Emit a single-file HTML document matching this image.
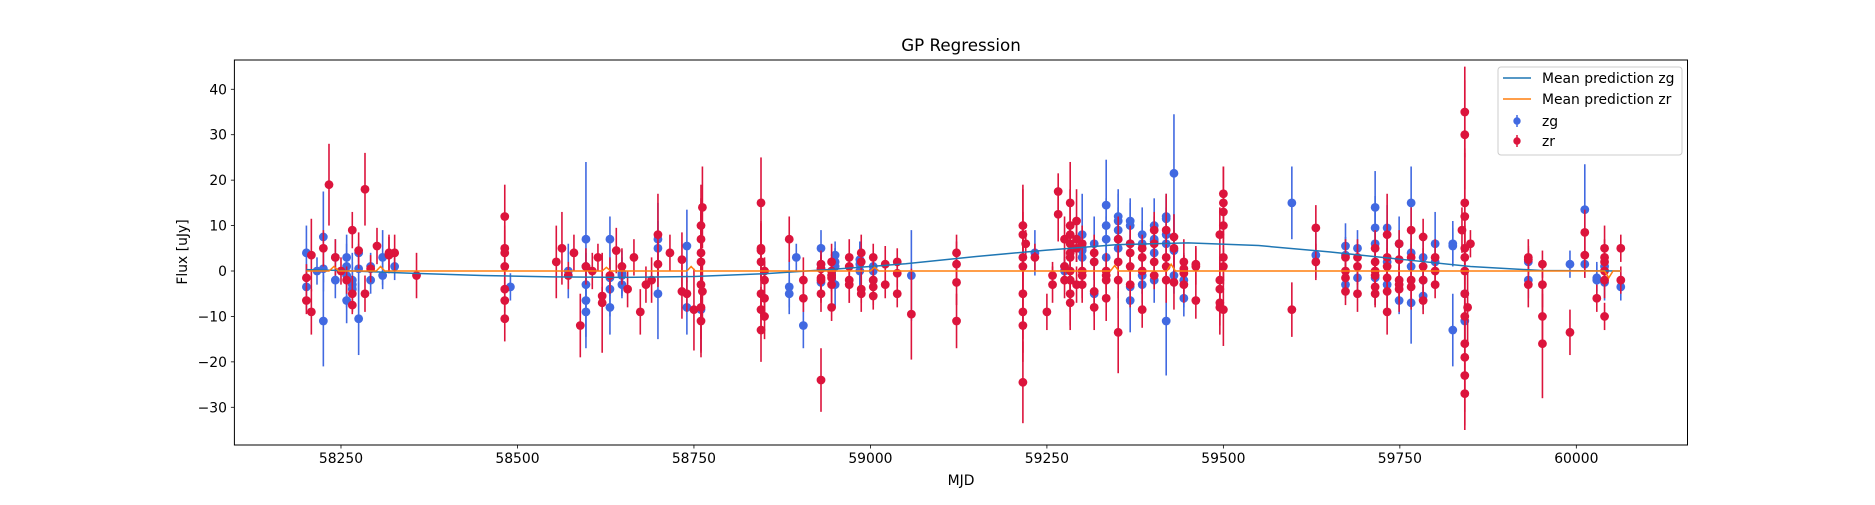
<!DOCTYPE html>
<html><head><meta charset="utf-8"><style>
html,body{margin:0;padding:0;background:#fff;}
svg text{font-family:"DejaVu Sans","Liberation Sans",sans-serif;fill:#000;}
</style></head><body>
<svg id="chart" width="1875" height="500" xmlns="http://www.w3.org/2000/svg">
<rect width="1875" height="500" fill="#fff"/>
<text x="961" y="51" font-size="16.7" text-anchor="middle">GP Regression</text>
<g id="grid"></g>
<g id="pts"></g>
<g id="lines"></g>
<rect x="234.4" y="60" width="1453.1" height="385" fill="none" stroke="#000" stroke-width="1"/>
<g id="axes"></g>
<text x="961" y="485" font-size="13.9" text-anchor="middle">MJD</text>
<text transform="translate(187,252) rotate(-90)" font-size="13.9" text-anchor="middle">Flux [uJy]</text>
<g>
<rect x="1498" y="67" width="184" height="88" rx="3" fill="#fff" fill-opacity="0.8" stroke="#ccc"/>
<line x1="1503" y1="78" x2="1531" y2="78" stroke="#1f77b4" stroke-width="1.5"/>
<text x="1542" y="83" font-size="13.9">Mean prediction zg</text>
<line x1="1503" y1="99" x2="1531" y2="99" stroke="#ff7f0e" stroke-width="1.5"/>
<text x="1542" y="104" font-size="13.9">Mean prediction zr</text>
<line x1="1517" y1="115" x2="1517" y2="127" stroke="#4169e1" stroke-width="1.5"/>
<circle cx="1517" cy="121" r="3.7" fill="#4169e1"/>
<text x="1542" y="126" font-size="13.9">zg</text>
<line x1="1517" y1="135" x2="1517" y2="147" stroke="#dc143c" stroke-width="1.5"/>
<circle cx="1517" cy="141" r="3.7" fill="#dc143c"/>
<text x="1542" y="146" font-size="13.9">zr</text>
</g>
</svg>
<script>
const xTicks=[58250,58500,58750,59000,59250,59500,59750,60000];
const yTicks=[-30,-20,-10,0,10,20,30,40];
const zgMJD=[58201,58201,58216,58225,58225,58225,58242,58242,58258,58258,58258,58258,58266,58266,58266,58275,58275,58275,58292,58292,58309,58309,58326,58490,58572,58597,58597,58597,58597,58597,58631,58631,58631,58631,58648,58648,58648,58699,58699,58699,58740,58740,58760,58885,58885,58905,58895,58930,58930,58930,58930,58950,58950,58950,58950,58985,58985,58985,59004,59004,59004,59058,59233,59275,59275,59300,59300,59300,59300,59300,59317,59317,59317,59334,59334,59334,59334,59351,59351,59351,59351,59351,59368,59368,59368,59368,59368,59385,59385,59385,59385,59402,59402,59402,59402,59402,59419,59419,59419,59419,59419,59430,59430,59430,59444,59444,59597,59631,59673,59673,59673,59690,59690,59715,59715,59715,59715,59732,59732,59732,59749,59749,59766,59766,59766,59766,59783,59783,59783,59800,59800,59825,59825,59825,59842,59842,59932,59932,59991,60012,60012,60029,60029,60040,60040,60063];
const zgFlux=[4,-3.5,0,7.5,-11,0.5,-2,3,-1,-6.5,3,1,-3,-4,-2,-10.5,0.5,4,1,-2,3,-1,1,-3.5,0,7,-6.5,-3,1,-9,-1.5,7,-8,-4,-1,-3,-0.5,-5,7,5,5.5,-8,-8.5,-3.5,-5,-12,3,0.5,-2.5,1.5,5,2,3.5,1,-3,0,2.5,1.5,1,-2,0,-1,4,0,1,4.5,6,8,5,3,6,-5,2,10,14.5,7,3,9,11,12,7,5,-3.5,10,11,6,-6.5,8,6,-1,-3,6.5,10,7,-2,4,8,-11,11.5,12,6,21.5,4.5,-1,-6,-2,15,3.5,5.5,-3,3.5,-1.5,5,14,9.5,-1.5,6,-3,9.5,2,-6.5,6,-7,15,4,1,-2,3,-5.5,6,2,6,-13,5.5,-5,-11,2,-2,1.5,13.5,1.5,-1.5,-2,-2.5,1,-3.5];
const zgErr=[6,5,3,10,10,5,4,4,7,5,5,3,5,5,6,8,5,2,3,3,6,3,3,3,6,17,8,4,3,8,4,5,6,6,4,3,5,10,8,6,8,6,9,6,3,5,3,4,4,4,4,3,3,4,5,3,3,5,3,4,3,10,5,3,4,3,4,9,3,4,6,5,4,6,10,5,4,5,6,6,5,4,5,5,5,5,7,6,5,4,4,4,6,5,5,6,6,12,5,5,5,13,8,4,4,6,8,5,5,3,4,3,4,8,7,6,7,5,5,7,3,6,9,8,5,5,4,4,3,7,4,5,8,4,10,4,3,4,3,10,3,3,4,4,3,3];
const zrMJD=[58201,58201,58208,58208,58225,58233,58242,58250,58258,58266,58266,58266,58275,58284,58284,58292,58301,58318,58318,58326,58357,58482,58482,58482,58482,58482,58482,58482,58555,58563,58572,58580,58589,58597,58606,58614,58620,58620,58631,58640,58648,58656,58665,58674,58682,58690,58699,58699,58716,58733,58733,58740,58750,58760,58760,58760,58760,58760,58760,58760,58762,58762,58845,58845,58845,58845,58845,58845,58845,58850,58850,58850,58850,58885,58905,58905,58930,58930,58930,58930,58930,58930,58945,58945,58945,58945,58945,58945,58970,58970,58970,58970,58987,58987,58987,58987,59004,59004,59004,59004,59021,59021,59038,59038,59038,59058,59122,59122,59122,59122,59216,59216,59216,59216,59216,59216,59216,59216,59220,59233,59250,59258,59258,59266,59266,59275,59275,59275,59283,59283,59283,59283,59283,59283,59283,59283,59283,59283,59292,59292,59292,59292,59300,59300,59300,59300,59317,59317,59317,59317,59334,59334,59334,59334,59351,59351,59351,59351,59368,59368,59368,59368,59385,59385,59385,59385,59402,59402,59402,59402,59419,59419,59419,59419,59430,59430,59430,59444,59444,59444,59444,59461,59461,59461,59495,59495,59495,59495,59495,59500,59500,59500,59500,59500,59500,59500,59597,59631,59631,59673,59673,59673,59673,59690,59690,59690,59715,59715,59715,59715,59715,59715,59732,59732,59732,59732,59732,59732,59749,59749,59749,59749,59749,59766,59766,59766,59766,59783,59783,59783,59783,59800,59800,59800,59842,59842,59842,59842,59842,59842,59842,59842,59842,59842,59842,59842,59842,59838,59846,59850,59932,59932,59932,59952,59952,59952,59952,59991,60012,60012,60029,60040,60040,60040,60040,60040,60040,60063,60063];
const zrFlux=[-1.5,-6.5,3.5,-9,5,19,3,0,-2,9,-5,-7.5,4.5,18,-5,0.5,5.5,4,3.5,4,-1,12,5,4,1,-4,-6.5,-10.5,2,5,-1,4,-12,1,0,3,-5.5,-7,-1,4.5,1,-4,3,-9,-3,-2,8,1.5,4,2.5,-4.5,-5,-8.5,7,10,4,2,-3,-8,-11,14,-4.5,15,5,2,-5,-8.5,-13,4.5,-10,-6,0,-2,7,-2,-6,1.5,-1.5,0.5,-24,-5,-2,-3,-8,2,-1.5,-1,0,-3,3,-2,1,-5,-4,2,4,-3.5,3,-5.5,-2,1.5,-3,-5,-0.5,2,-9.5,4,1.5,-2.5,-11,10,8,3,1,-5,-9,-24.5,-12,6,3,-9,-3,-1,17.5,12.5,7,1,-2,15,10,8,6,3,0,-5,-7,-2,4,-3,5,11,7,6,0,-1,-3,-8,2,4,-4.5,0,-6,-2,-1,-13.5,2,7,-2,1,6,4,-3,-8.5,0,5,3,2,9,6,-1,-2,3,9,1,7.5,5,-2.5,-3,-0.5,2,0.5,1.5,-6.5,1,8,-2,-4,-7,-8,17,15,13,10,3,1,-8.5,-8.5,9.5,2,-4.5,0,3,-1.5,1,-5,3,-3.5,2,-5,0,5,-1,-4.5,-1.5,1,3,8,-9,-2,2.5,-4,6,-3,9,-2,-3.5,3,7.5,-6.5,1,-2,3,-3,0,15,30,35,12,5,3,0,-5,-10,-16,-19,-23,-27,9,-8,6,3,2.5,-3,-16,-3,-10,1.5,-13.5,8.5,3.5,-6,-2,5,-10,3,2,0,5,-2];
const zrErr=[3,3,8,5,4,9,4,3,3,4,4,2,4,8,4,3,4,4,4,4,5,7,5,5,5,5,5,5,8,8,3,4,7,4,4,3,2,11,4,5,4,4,4,5,4,5,9,5,4,6,6,4,9,8,9,10,14,12,10,8,9,6,10,6,4,5,5,7,6,5,5,3,4,5,5,3,3,3,3,7,4,5,4,3,4,3,4,3,4,4,5,3,4,3,3,4,4,3,3,4,4,3,3,3,3,10,4,5,5,6,9,10,8,12,10,9,9,8,3,3,4,4,3,4,6,5,4,4,9,8,10,9,7,9,8,5,4,6,4,3,7,5,4,3,5,4,5,4,4,5,4,5,3,4,9,4,5,4,3,4,4,5,4,5,3,4,4,4,4,3,5,6,8,4,5,4,6,4,4,5,3,4,4,4,6,5,6,5,6,6,8,5,7,5,4,8,6,5,4,3,4,4,3,4,4,4,4,5,3,3,4,3,4,3,4,4,9,5,4,4,5,3,4,5,4,5,4,4,3,4,3,4,3,4,12,12,10,14,8,7,10,10,12,10,12,12,7,5,8,3,4,3,5,12,5,5,3,5,5,5,3,4,5,3,4,3,3,3,3];
const zgMeanMJD=[58201,58250,58350,58450,58550,58650,58750,58850,58950,59050,59150,59250,59350,59450,59550,59650,59750,59850,59950,60063];
const zgMeanVal=[0.3,0.1,-0.5,-1,-1.3,-1.4,-1.2,-0.6,0.4,1.6,3.2,4.6,5.8,6.2,5.6,4.2,2.6,1,0.1,0];
const zrMeanMJD=[58201,58233,58240,58247,58300,58306,58312,58620,58626,58632,58740,58746,58752,59000,59006,59012,59340,59346,59352,59420,59426,59432,60040,60046,60052,60063];
const zrMeanVal=[0,0,1,0,0,1,0,0,0.8,0,0,1,0,0,0.8,0,0,1.2,0,0,1.5,0,0,-1.5,0,0];
const X=v=>234.4+(v-58099)/(60157.5-58099)*1453.1;
const Y=v=>271-v*4.543;
const NS="http://www.w3.org/2000/svg";
function mk(tag,attrs,parent){const e=document.createElementNS(NS,tag);for(const k in attrs)e.setAttribute(k,attrs[k]);parent.appendChild(e);return e;}
const axes=document.getElementById('axes');
xTicks.forEach(t=>{
  const l=mk('line',{x1:X(t),x2:X(t),y1:445,y2:448.5,stroke:'#000','stroke-width':0.8},axes);
  
  
  const tx=mk('text',{x:X(t),y:463,'font-size':13.9,'text-anchor':'middle'},axes);
  
  
  tx.textContent=t;
});
yTicks.forEach(t=>{
  const l=mk('line',{x1:230.9,x2:234.4,y1:Y(t),y2:Y(t),stroke:'#000','stroke-width':0.8},axes);
  
  
  const tx=mk('text',{x:227,y:Y(t)+5,'font-size':13.9,'text-anchor':'end'},axes);
  
  
  tx.textContent=t<0?'\u2212'+(-t):t;
});
const pts=document.getElementById('pts');
function series(m,f,e,color,name){
  const g=mk('g',{},pts);
  
  
  for(let i=0;i<m.length;i++){
    const ln=mk('line',{x1:X(m[i]),x2:X(m[i]),y1:Y(f[i]-e[i]),y2:Y(f[i]+e[i]),stroke:color,'stroke-width':1.6},g);
    
    
    const c=mk('circle',{cx:X(m[i]),cy:Y(f[i]),r:4.4,fill:color},g);
    
    
  }
}
series(zgMJD,zgFlux,zgErr,'#4169e1','zg');
series(zrMJD,zrFlux,zrErr,'#dc143c','zr');
const lines=document.getElementById('lines');
function line(m,v,color,name){
  const p=mk('polyline',{points:m.map((x,i)=>X(x)+','+Y(v[i])).join(' '),fill:'none',stroke:color,'stroke-width':1.5},lines);
  
  
}
line(zgMeanMJD,zgMeanVal,'#1f77b4','mean-prediction-zg');
line(zrMeanMJD,zrMeanVal,'#ff7f0e','mean-prediction-zr');
</script>
</body></html>
